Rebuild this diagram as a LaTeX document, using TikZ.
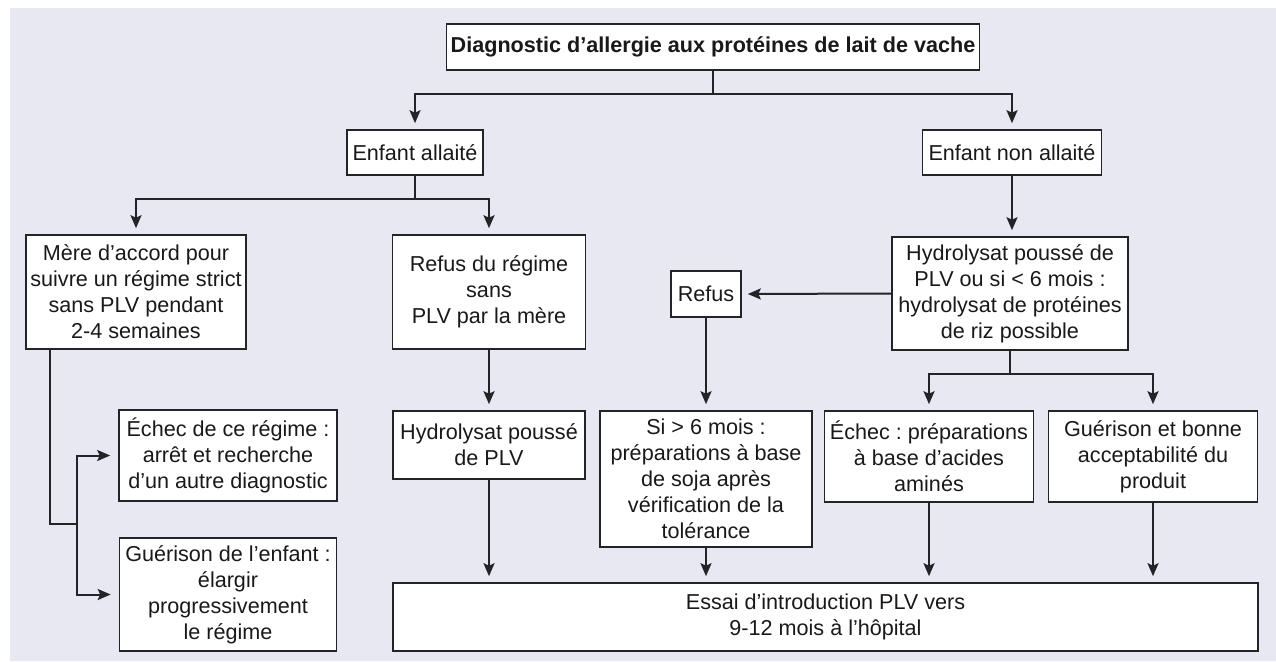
\documentclass[tikz,border=0pt]{standalone}
\usepackage{fontspec}
\setmainfont{Liberation Sans}
\usepackage{tikz}
\usetikzlibrary{arrows.meta}
\frenchspacing
\definecolor{plv_bg}{RGB}{232, 232, 243}
\definecolor{plv_ln}{RGB}{35, 35, 40}
\tikzstyle{box}=[rectangle,draw=plv_ln,fill=white,line width=1.6pt,
  align=center,inner sep=2pt,text=black!90,font=\fontsize{21.6}{26}\selectfont]
\tikzstyle{ln}=[draw=plv_ln,line width=2pt]
\tikzstyle{arr}=[draw=plv_ln,line width=2pt,shorten >=6pt,
  -{Stealth[length=13pt,width=11pt,inset=2.5pt]}]

\begin{document}
\begin{tikzpicture}[x=1pt,y=-1pt]
    \useasboundingbox (0,0) rectangle (1276,661);
    \fill [plv_bg] (10,8) rectangle (1276,661);
    \node [style=box,minimum width=533pt,minimum height=46pt] (diag) at (713,47)
      {\bfseries Diagnostic d’allergie aux protéines de lait de vache};
    \node [style=box,minimum width=136pt,minimum height=45pt] (alla) at (415,152.5) {Enfant allaité};
    \node [style=box,minimum width=179pt,minimum height=45pt] (nona) at (1012,152.5) {Enfant non allaité};
    \node [style=box,minimum width=220pt,minimum height=114pt] (mere) at (136,292)
      {Mère d’accord pour\\suivre un régime strict\\sans PLV pendant\\2-4 semaines};
    \node [style=box,minimum width=193pt,minimum height=114pt] (refr) at (489,292)
      {Refus du régime\\sans\\PLV par la mère};
    \node [style=box,minimum width=236pt,minimum height=113pt] (hydb) at (1010,293.5)
      {Hydrolysat poussé de\\PLV ou si < 6 mois :\\hydrolysat de protéines\\de riz possible};
    \node [style=box,minimum width=70pt,minimum height=46pt] (refus) at (706,294) {Refus};
    \node [style=box,minimum width=218pt,minimum height=91pt] (echr) at (228,455.5)
      {Échec de ce régime :\\arrêt et recherche\\d’un autre diagnostic};
    \node [style=box,minimum width=217pt,minimum height=113pt] (guer) at (228,594.5)
      {Guérison de l’enfant :\\élargir\\progressivement\\le régime};
    \node [style=box,minimum width=192pt,minimum height=68pt] (hydp) at (489,445)
      {Hydrolysat poussé\\de PLV};
    \node [style=box,minimum width=212pt,minimum height=136pt] (soja) at (706,479)
      {Si > 6 mois :\\préparations à base\\de soja après\\vérification de la\\tolérance};
    \node [style=box,minimum width=209pt,minimum height=91pt] (amin) at (929,456.5)
      {Échec : préparations\\à base d’acides\\aminés};
    \node [style=box,minimum width=209pt,minimum height=91pt] (gbon) at (1153,456.5)
      {Guérison et bonne\\acceptabilité du\\produit};
    \node [style=box,minimum width=865pt,minimum height=68pt] (essai) at (825.5,617)
      {Essai d’introduction PLV vers\\9-12 mois à l’hôpital};
    \coordinate (mj) at (77,524);
    \draw [style=ln] (diag.south) -- ++(0,23) coordinate (dj);
    \draw [style=arr] (dj) -| (alla.north);
    \draw [style=arr] (dj) -| (nona.north);
    \draw [style=ln] (alla.south) -- ++(0,23) coordinate (aj);
    \draw [style=arr] (aj) -| (mere.north);
    \draw [style=arr] (aj) -| (refr.north);
    \draw [style=arr] (nona.south) -- (nona.south |- hydb.north);
    \draw [style=ln] (mere.south west) ++(25,0) |- (mj);
    \draw [style=arr,shorten >=8pt] (mj) |- (echr.west);
    \draw [style=arr,shorten >=8pt] (mj) |- (guer.west);
    \draw [style=arr] (refr.south) -- (hydp.north);
    \draw [style=arr] (hydb.west) -- (refus.east);
    \draw [style=arr] (refus.south) -- (refus.south |- soja.north);
    \draw [style=ln] (hydb.south) -- ++(0,23) coordinate (hj);
    \draw [style=arr] (hj) -| (amin.north);
    \draw [style=arr] (hj) -| (gbon.north);
    \draw [style=arr] (hydp.south) -- (hydp.south |- essai.north);
    \draw [style=arr] (soja.south) -- (soja.south |- essai.north);
    \draw [style=arr] (amin.south) -- (amin.south |- essai.north);
    \draw [style=arr] (gbon.south) -- (gbon.south |- essai.north);
\end{tikzpicture}
\end{document}
